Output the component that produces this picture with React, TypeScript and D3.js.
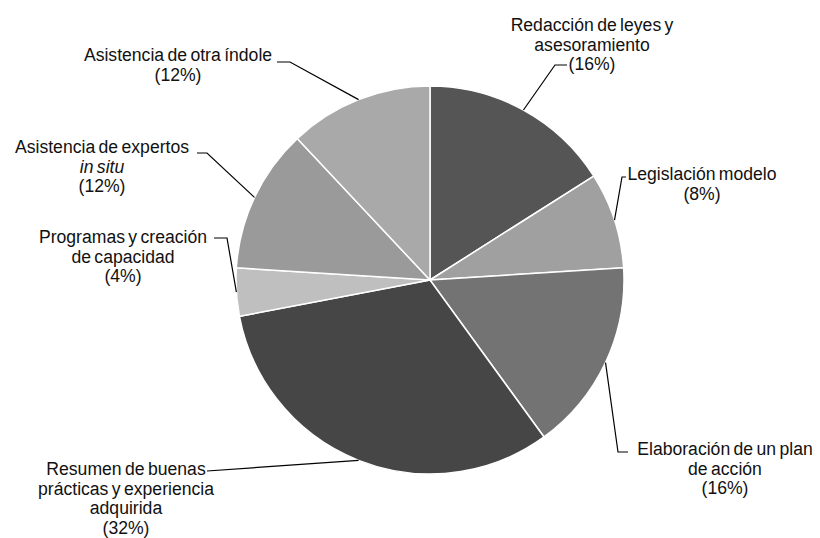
import React, { useEffect, useRef } from 'react';
import * as d3 from 'd3';

// slices clockwise from 12 o'clock
const categories = [
  ['Redacción de leyes y', 'asesoramiento'],
  ['Legislación modelo'],
  ['Elaboración de un plan', 'de acción'],
  ['Resumen de buenas', 'prácticas y experiencia', 'adquirida'],
  ['Programas y creación', 'de capacidad'],
  ['Asistencia de expertos', 'in situ'],
  ['Asistencia de otra índole'],
];
const shares = [16, 8, 16, 32, 4, 12, 12];
const shareLabels = ['(16%)', '(8%)', '(16%)', '(32%)', '(4%)', '(12%)', '(12%)'];
const italicLines = ['in situ'];

const fills = ['#555555', '#a0a0a0', '#737373', '#464646', '#bfbfbf', '#9a9a9a', '#a9a9a9'];

// label placement: text centre, first baseline, leader bend points
const labelLayout = [
  { cx: 592, y: 31, leader: [[555, 65], [567, 65]] },
  { cx: 702, y: 180, leader: [[622, 177], [626, 177]] },
  { cx: 725, y: 455, leader: [[618, 452], [628, 452]] },
  { cx: 126, y: 475, leader: [[207, 471]] },
  { cx: 123, y: 243, leader: [[227, 238], [214, 238]] },
  { cx: 102, y: 153, leader: [[207, 153], [197, 153]] },
  { cx: 178, y: 61, leader: [[290, 62], [277, 62]] },
];

const W = 820;
const H = 538;

export default function App() {
  const svgRef = useRef<SVGSVGElement>(null);

  useEffect(() => {
    const svg = d3.select(svgRef.current);
    svg.selectAll('*').remove();

    const cx = 430;
    const cy = 280;
    const r = 194;
    const g = svg.append('g').attr('transform', `translate(${cx},${cy})`);

    const pie = d3.pie<number>().sort(null).value(d => d);
    const arcs = pie(shares);
    const arc = d3.arc<d3.PieArcDatum<number>>().innerRadius(0).outerRadius(r);

    g.selectAll('path.slice')
      .data(arcs)
      .enter()
      .append('path')
      .attr('class', 'slice')
      .attr('d', arc)
      .attr('fill', (_, i) => fills[i])
      .attr('stroke', '#ffffff')
      .attr('stroke-width', 1.5);

    // leader lines from slice mid-angle on the rim
    arcs.forEach((a, i) => {
      const mid = (a.startAngle + a.endAngle) / 2;
      const start: [number, number] = [cx + r * Math.sin(mid), cy - r * Math.cos(mid)];
      const pts = [start, ...labelLayout[i].leader] as [number, number][];
      svg.append('path')
        .attr('d', d3.line()(pts))
        .attr('fill', 'none')
        .attr('stroke', '#000')
        .attr('stroke-width', 1.2);
    });

    const lineH = 19.5;
    categories.forEach((lines, i) => {
      const lay = labelLayout[i];
      const t = svg.append('text')
        .attr('text-anchor', 'middle')
        .attr('font-family', '"Liberation Sans", Arial, sans-serif')
        .attr('font-size', 17.6)
        .attr('word-spacing', -1.5)
        .attr('fill', '#111');
      [...lines, shareLabels[i]].forEach((ln, j) => {
        t.append('tspan')
          .attr('x', lay.cx)
          .attr('y', lay.y + j * lineH)
          .attr('font-style', italicLines.includes(ln) ? 'italic' : 'normal')
          .text(ln);
      });
    });
  }, []);

  return (
    <svg
      ref={svgRef}
      width={W}
      height={H}
      style={{ position: 'absolute', left: 0, top: 0, background: '#fff' }}
    />
  );
}
